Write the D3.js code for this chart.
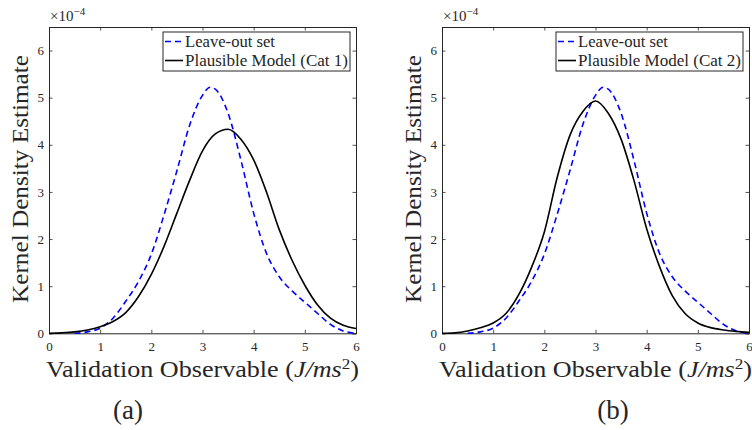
<!DOCTYPE html>
<html><head><meta charset="utf-8">
<script src="https://cdn.jsdelivr.net/npm/d3@7"></script>
<style>
body{margin:0;background:#fff;}
</style></head>
<body><svg id="c" width="752" height="430"></svg>
<script>
// Data (density values in units of 1e-4)
const xTicks = [0,1,2,3,4,5,6];
const yTicks = [0,1,2,3,4,5,6];
const panelLabels = ["(a)", "(b)"];
const seriesNames = ["Leave-out set", "Plausible Model (Cat 1)", "Plausible Model (Cat 2)"];

const leaveOutX = [0.5,0.75,1.0,1.25,1.5,1.75,2.0,2.25,2.5,2.75,3.0,3.15,3.25,3.5,3.75,4.0,4.25,4.5,4.75,5.0,5.25,5.5,5.75,6.0];
const leaveOutY = [0,0.03,0.11,0.32,0.68,1.1,1.68,2.52,3.45,4.42,5.05,5.22,5.18,4.67,3.68,2.55,1.7,1.2,0.9,0.66,0.42,0.19,0.05,0];

const modelX = [0,0.25,0.5,0.75,1.0,1.25,1.5,1.75,2.0,2.25,2.5,2.75,3.0,3.25,3.5,3.75,4.0,4.25,4.5,4.75,5.0,5.25,5.5,5.75,6.0];
const modelCat1 = [0,0.01,0.03,0.07,0.14,0.25,0.44,0.78,1.25,1.85,2.55,3.25,3.87,4.23,4.33,4.12,3.68,3.0,2.2,1.55,1.02,0.6,0.32,0.17,0.1];
const modelCat2 = [0,0.01,0.05,0.12,0.22,0.42,0.82,1.4,2.15,3.3,4.2,4.7,4.93,4.67,4.12,3.25,2.22,1.42,0.8,0.42,0.22,0.12,0.07,0.04,0.02];

const FONT = "'Liberation Serif', 'DejaVu Serif', serif";
const svg = d3.select("#c").attr("font-family", FONT);
const AX = "#262626";

function panel(x0, x1, my, modelName, label, labelX){
  const top = 27, bot = 333.3;
  const x = d3.scaleLinear().domain([0,6]).range([x0,x1]);
  const y = d3.scaleLinear().domain([0,6.5]).range([bot,top]);
  const g = svg.append("g");
  const ax = [
    {a:d3.axisBottom(x).tickValues(xTicks).tickSize(-3.5).tickPadding(8), t:`translate(0,${bot})`, lab:true},
    {a:d3.axisTop(x).tickValues(xTicks).tickSize(-3.5), t:`translate(0,${top})`, lab:false},
    {a:d3.axisLeft(y).tickValues(yTicks).tickSize(-3.5).tickPadding(5), t:`translate(${x0},0)`, lab:true},
    {a:d3.axisRight(y).tickValues(yTicks).tickSize(-3.5), t:`translate(${x1},0)`, lab:false}
  ];
  ax.forEach(o=>{
    const s = g.append("g").attr("transform", o.t).call(o.a.tickFormat(o.lab? d3.format("d") : ""));
    s.attr("font-family", FONT);
    s.select(".domain").attr("stroke", AX).attr("stroke-width", 1);
    s.selectAll(".tick line").attr("stroke", AX).attr("stroke-width", 0.8);
    s.selectAll(".tick text").attr("font-family", FONT).attr("font-size", 13).attr("fill", AX);
  });
  const line = d3.line().curve(d3.curveMonotoneX).x(d=>x(d[0])).y(d=>y(d[1]));
  g.append("path").datum(leaveOutX.map((v,i)=>[v, leaveOutY[i]])).attr("d", line)
    .attr("fill","none").attr("stroke","#0000ff").attr("stroke-width",1.6).attr("stroke-dasharray","6,4");
  g.append("path").datum(modelX.map((v,i)=>[v, my[i]])).attr("d", line)
    .attr("fill","none").attr("stroke","#000").attr("stroke-width",1.6);
  const T = (sel)=>sel.append("text").attr("font-family", FONT).attr("fill", AX);
  // exponent
  const e = T(g).attr("x", x0+1).attr("y", 21).attr("font-size", 15);
  e.append("tspan").text("×10");
  e.append("tspan").attr("dy", -6.5).attr("font-size", 11).text("−4");
  // legend
  const lgx = x1 - 193, lgy = 32, lgw = 187, lgh = 39;
  g.append("rect").attr("x", lgx).attr("y", lgy).attr("width", lgw).attr("height", lgh)
    .attr("fill","#fff").attr("stroke", AX).attr("stroke-width", 1);
  [[seriesNames[0], "#0000ff", "6,4", 46.5, 90], [modelName, "#000", null, 65.5, 163]].forEach(r=>{
    g.append("line").attr("x1", lgx+2).attr("x2", lgx+20).attr("y1", r[3]-5).attr("y2", r[3]-5)
      .attr("stroke", r[1]).attr("stroke-width", 1.6).attr("stroke-dasharray", r[2]);
    T(g).attr("x", lgx+22).attr("y", r[3]).attr("font-size", 16.5)
      .attr("textLength", r[4]).attr("lengthAdjust", "spacingAndGlyphs").text(r[0]);
  });
  // axis labels
  const cx = (x0+x1)/2;
  const xl = T(g).attr("x", cx).attr("y", 377).attr("text-anchor","middle").attr("font-size", 23)
    .attr("textLength", 313).attr("lengthAdjust", "spacingAndGlyphs");
  xl.append("tspan").text("Validation Observable (");
  xl.append("tspan").attr("font-style","italic").text("J/ms");
  xl.append("tspan").attr("dy", -8).attr("font-size", 15).text("2");
  xl.append("tspan").attr("dy", 8).text(")");
  T(g).attr("transform", `translate(${x0-21},179) rotate(-90)`)
    .attr("text-anchor","middle").attr("font-size", 23)
    .attr("textLength", 248).attr("lengthAdjust", "spacingAndGlyphs").text("Kernel Density Estimate");
  T(g).attr("x", labelX).attr("y", 419).attr("text-anchor","middle")
    .attr("font-size", 27).text(label);
}

panel(49, 356, modelCat1, seriesNames[1], panelLabels[0], 128);
panel(442, 749, modelCat2, seriesNames[2], panelLabels[1], 613);
</script></body></html>
